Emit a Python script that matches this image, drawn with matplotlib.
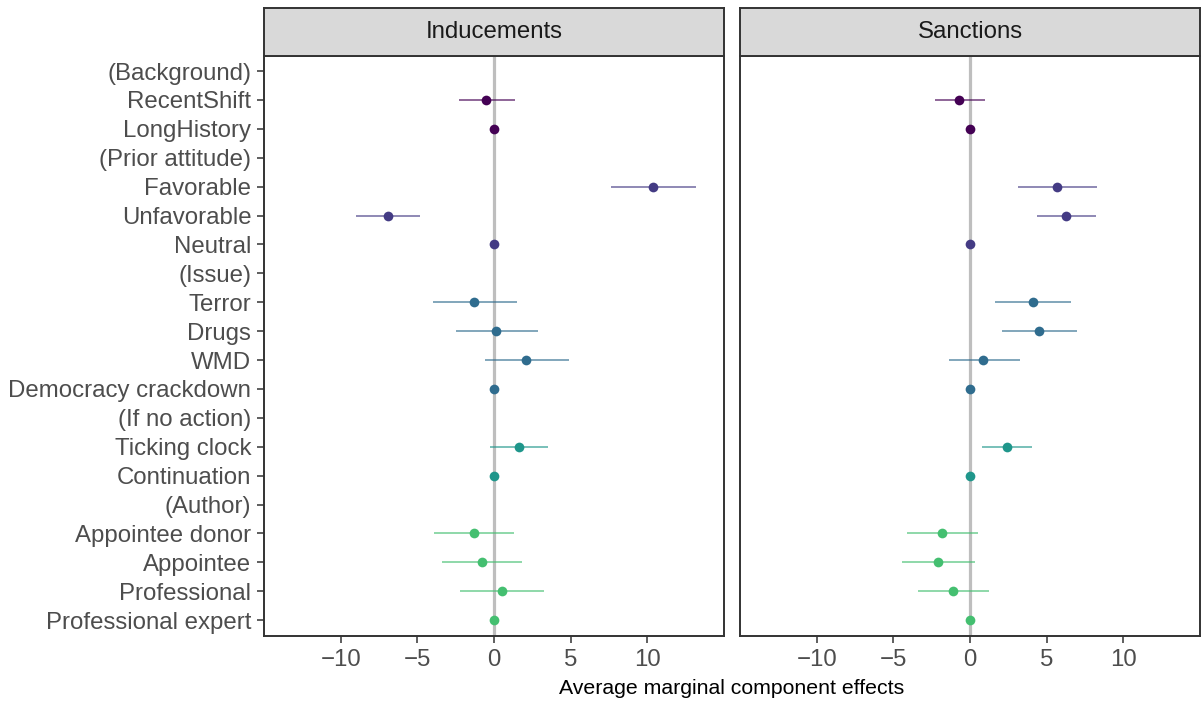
import numpy as np
import matplotlib
matplotlib.use("Agg")
import matplotlib.pyplot as plt

plt.rcParams['font.family'] = ['Liberation Sans', 'DejaVu Sans']

levels = ['(Background)', 'RecentShift', 'LongHistory',
          '(Prior attitude)', 'Favorable', 'Unfavorable', 'Neutral',
          '(Issue)', 'Terror', 'Drugs', 'WMD', 'Democracy crackdown',
          '(If no action)', 'Ticking clock', 'Continuation',
          '(Author)', 'Appointee donor', 'Appointee', 'Professional', 'Professional expert']
groups = [0, 0, 0, 1, 1, 1, 1, 2, 2, 2, 2, 2, 3, 3, 3, 4, 4, 4, 4, 4]
is_header = [lv.startswith('(') for lv in levels]

panels = ['Inducements', 'Sanctions']

# estimates (nan for header rows)
ind_est = [np.nan, -0.5, 0.0, np.nan, 10.4, -6.9, 0.0, np.nan, -1.3, 0.1, 2.1, 0.0,
           np.nan, 1.6, 0.0, np.nan, -1.3, -0.8, 0.5, 0.0]
ind_lo = [np.nan, -2.3, np.nan, np.nan, 7.6, -9.0, np.nan, np.nan, -4.0, -2.5, -0.6, np.nan,
          np.nan, -0.25, np.nan, np.nan, -3.9, -3.4, -2.2, np.nan]
ind_hi = [np.nan, 1.4, np.nan, np.nan, 13.2, -4.8, np.nan, np.nan, 1.5, 2.85, 4.9, np.nan,
          np.nan, 3.55, np.nan, np.nan, 1.3, 1.85, 3.25, np.nan]

san_est = [np.nan, -0.7, 0.0, np.nan, 5.65, 6.25, 0.0, np.nan, 4.1, 4.5, 0.85, 0.0,
           np.nan, 2.4, 0.0, np.nan, -1.85, -2.1, -1.1, 0.0]
san_lo = [np.nan, -2.3, np.nan, np.nan, 3.1, 4.4, np.nan, np.nan, 1.65, 2.1, -1.4, np.nan,
          np.nan, 0.75, np.nan, np.nan, -4.1, -4.45, -3.4, np.nan]
san_hi = [np.nan, 0.95, np.nan, np.nan, 8.25, 8.2, np.nan, np.nan, 6.6, 6.95, 3.25, np.nan,
          np.nan, 4.05, np.nan, np.nan, 0.5, 0.3, 1.25, np.nan]

data = {
    'Inducements': (ind_est, ind_lo, ind_hi),
    'Sanctions': (san_est, san_lo, san_hi),
}

group_colors = [plt.cm.viridis(v) for v in [0.0, 0.175, 0.35, 0.525, 0.7]]

fig = plt.figure(figsize=(12.04, 7.04), dpi=100)
W, H = 1204, 704
panel_x = [264, 740]
panel_w = 460
top, bottom = 56, 636
strip_top = 8

tick_col = '#4D4D4D'
frame_col = '#333333'

ypos = np.arange(len(levels))
for k, name in enumerate(panels):
    x0 = panel_x[k]
    ax = fig.add_axes([x0 / W, 1 - bottom / H, panel_w / W, (bottom - top) / H])
    est, lo, hi = data[name]
    ax.axvline(0, color='#BEBEBE', lw=2.3, zorder=1)
    for i in range(len(levels)):
        if is_header[i]:
            continue
        c = group_colors[groups[i]]
        if not np.isnan(lo[i]):
            ax.plot([lo[i], hi[i]], [ypos[i], ypos[i]], color=c, lw=1.2, alpha=0.7,
                    solid_capstyle='butt', zorder=2)
        ax.plot(est[i], ypos[i], 'o', color=c, ms=7.0, mec='none', zorder=3)
    ax.set_xlim(-15, 15)
    ax.set_ylim(len(levels) - 1 + 0.55, -0.52)
    ax.set_xticks([-10, -5, 0, 5, 10])
    ax.tick_params(axis='both', length=5.3, width=1.1, color=frame_col,
                   labelsize=17.3, labelcolor=tick_col, pad=3.8)
    if k == 0:
        ax.set_yticks(ypos)
        ax.set_yticklabels(levels)
    else:
        ax.set_yticks([])
    for sp in ax.spines.values():
        sp.set_color(frame_col)
        sp.set_linewidth(1.4)

    sax = fig.add_axes([x0 / W, 1 - top / H, panel_w / W, (top - strip_top) / H])
    sax.set_facecolor('#D9D9D9')
    sax.set_xticks([])
    sax.set_yticks([])
    for sp in sax.spines.values():
        sp.set_color(frame_col)
        sp.set_linewidth(1.4)
    sax.text(0.5, 0.5, name, ha='center', va='center', fontsize=17.3,
             color='#1A1A1A', transform=sax.transAxes)

fig.text((264 + 1200) / 2 / W, 1 - 688 / H, 'Average marginal component effects',
         ha='center', va='center', fontsize=15.3, color='black')

fig.savefig('out.png', dpi=100)
